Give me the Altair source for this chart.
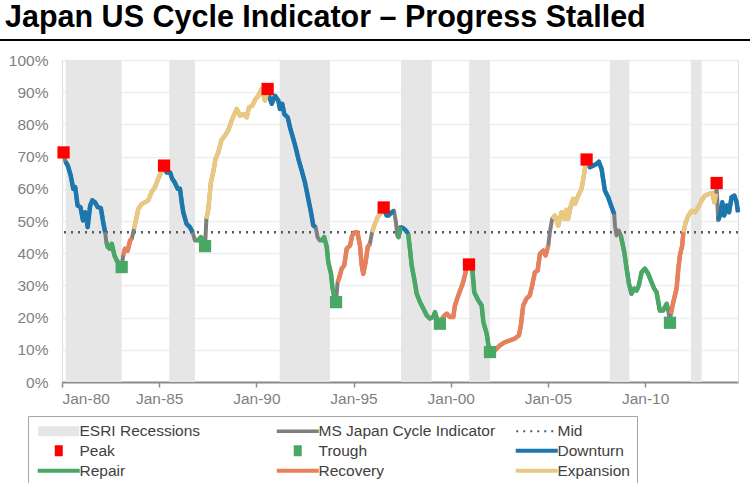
import altair as alt
import pandas as pd

# ---------------- data ----------------
rec_start = [1980.19, 1985.52, 1991.20, 1997.44, 2000.95, 2008.19, 2012.36]
rec_end = [1983.07, 1986.84, 1993.79, 1999.02, 2002.02, 2009.19, 2012.91]

years = [
    1980.08, 1980.17, 1980.30, 1980.45, 1980.58, 1980.68, 1980.80, 1980.95, 1981.08, 1981.20,
    1981.32, 1981.45, 1981.56, 1981.70, 1981.84, 1982.00, 1982.12, 1982.22, 1982.28, 1982.36,
    1982.46, 1982.56, 1982.70, 1982.82, 1982.95, 1983.07, 1983.15, 1983.24, 1983.38, 1983.50,
    1983.60, 1983.70, 1983.78, 1983.93, 1984.10, 1984.27, 1984.44, 1984.60, 1984.78, 1984.95,
    1985.09, 1985.25, 1985.38, 1985.56, 1985.67, 1985.80, 1985.95, 1986.07, 1986.16, 1986.24,
    1986.41, 1986.58, 1986.72, 1986.84, 1987.00, 1987.15, 1987.27, 1987.36, 1987.43, 1987.53,
    1987.66, 1987.78, 1987.90, 1988.04, 1988.20, 1988.38, 1988.55, 1988.73, 1988.99, 1989.16,
    1989.33, 1989.50, 1989.62, 1989.79, 1989.96, 1990.10, 1990.27, 1990.44, 1990.58, 1990.65,
    1990.79, 1990.96, 1991.13, 1991.21, 1991.33, 1991.44, 1991.61, 1991.73, 1991.90, 1992.02,
    1992.16, 1992.33, 1992.50, 1992.67, 1992.81, 1992.93, 1993.05, 1993.15, 1993.25, 1993.36,
    1993.49, 1993.62, 1993.70, 1993.84, 1993.92, 1994.02, 1994.10, 1994.18, 1994.25, 1994.39,
    1994.52, 1994.65, 1994.82, 1994.93, 1995.08, 1995.20, 1995.33, 1995.42, 1995.50, 1995.62,
    1995.73, 1995.84, 1995.95, 1996.07, 1996.24, 1996.36, 1996.55, 1996.70, 1996.79, 1996.96,
    1997.08, 1997.18, 1997.25, 1997.32, 1997.40, 1997.55, 1997.70, 1997.81, 1997.90, 1997.99,
    1998.12, 1998.25, 1998.42, 1998.59, 1998.76, 1998.93, 1999.10, 1999.19, 1999.30, 1999.44,
    1999.61, 1999.79, 1999.96, 2000.13, 2000.22, 2000.39, 2000.52, 2000.64, 2000.81, 2000.94,
    2001.11, 2001.21, 2001.42, 2001.59, 2001.68, 2001.85, 2001.94, 2002.02, 2002.27, 2002.53,
    2002.79, 2003.05, 2003.30, 2003.51, 2003.61, 2003.73, 2003.90, 2004.07, 2004.19, 2004.33,
    2004.47, 2004.59, 2004.76, 2004.88, 2005.02, 2005.10, 2005.22, 2005.36, 2005.53, 2005.70,
    2005.87, 2005.95, 2006.04, 2006.18, 2006.30, 2006.39, 2006.56, 2006.73, 2006.81, 2006.90,
    2006.99, 2007.16, 2007.33, 2007.50, 2007.62, 2007.76, 2007.93, 2008.10, 2008.28, 2008.41,
    2008.45, 2008.53, 2008.65, 2008.75, 2008.93, 2009.05, 2009.17, 2009.30, 2009.44, 2009.56,
    2009.68, 2009.82, 2009.99, 2010.16, 2010.33, 2010.47, 2010.59, 2010.68, 2010.76, 2010.93,
    2011.11, 2011.19, 2011.28, 2011.33, 2011.45, 2011.62, 2011.71, 2011.79, 2011.91, 2011.97,
    2012.09, 2012.23, 2012.40, 2012.57, 2012.74, 2012.91, 2013.08, 2013.29, 2013.46, 2013.56,
    2013.65, 2013.68, 2013.76, 2013.85, 2013.97, 2014.07, 2014.20, 2014.32, 2014.45, 2014.59,
    2014.71, 2014.78,
]

values = [
    71.0, 68.5, 67.2, 64.1, 60.0, 60.5, 54.8, 54.3, 50.2, 52.7,
    48.1, 54.8, 56.4, 55.8, 54.3, 54.0, 49.6, 46.5, 43.5, 41.9,
    41.4, 42.9, 39.3, 37.7, 36.7, 35.7, 39.3, 41.4, 40.8, 43.9,
    44.7, 47.5, 49.6, 53.8, 55.3, 55.8, 56.4, 58.9, 60.5, 63.1,
    64.9, 67.0, 65.1, 65.1, 63.1, 62.0, 60.0, 60.0, 55.8, 52.7,
    49.1, 48.1, 46.5, 44.0, 44.0, 45.0, 44.0, 42.2, 50.7, 53.8,
    62.0, 65.1, 69.3, 71.3, 75.0, 76.5, 78.1, 81.2, 84.8, 82.7,
    83.2, 82.2, 85.3, 85.8, 87.9, 88.9, 91.0, 87.4, 90.5, 88.9,
    86.4, 88.9, 87.4, 84.8, 86.4, 83.2, 82.2, 79.1, 75.5, 72.9,
    69.3, 65.7, 62.0, 56.9, 52.7, 48.6, 48.1, 45.0, 44.0, 44.0,
    45.0, 41.9, 37.2, 33.6, 29.0, 26.0, 24.8, 31.0, 32.1, 35.2,
    36.2, 41.4, 42.4, 45.5, 46.5, 46.5, 42.4, 36.2, 33.6, 37.2,
    41.9, 42.9, 46.5, 48.6, 51.2, 52.2, 54.0, 51.7, 51.7, 52.7,
    53.2, 49.6, 45.5, 45.0, 48.1, 47.8, 47.0, 46.0, 41.4, 36.2,
    32.1, 27.4, 24.8, 22.8, 20.7, 19.7, 20.2, 21.7, 19.5, 18.1,
    20.2, 21.2, 20.2, 20.2, 23.8, 26.9, 29.0, 31.0, 35.2, 36.5,
    35.2, 27.9, 25.3, 23.8, 18.6, 15.0, 11.4, 9.3, 9.8, 11.4,
    12.4, 12.9, 13.5, 14.5, 17.6, 23.8, 25.9, 26.9, 30.0, 34.1,
    34.6, 39.8, 40.8, 39.3, 42.4, 46.5, 50.7, 51.7, 48.6, 52.7,
    50.7, 53.5, 50.7, 54.8, 56.9, 55.3, 57.9, 60.0, 62.6, 66.2,
    69.0, 66.7, 67.2, 67.7, 68.4, 66.2, 59.5, 57.4, 54.3, 52.2,
    48.6, 45.5, 47.0, 45.5, 40.3, 35.2, 30.5, 27.4, 29.0, 28.4,
    30.0, 34.1, 35.2, 33.6, 31.0, 29.0, 27.9, 24.8, 22.2, 22.2,
    24.3, 22.2, 18.8, 21.2, 24.8, 29.0, 35.2, 39.3, 42.4, 46.5,
    49.6, 51.7, 53.2, 52.7, 54.3, 56.4, 57.9, 58.4, 58.7, 55.8,
    58.5, 61.0, 50.2, 51.7, 55.8, 51.7, 54.8, 52.7, 57.4, 57.9,
    55.8, 52.7,
]

# phase of the stretch that starts at each point: D downturn, R repair,
# C recovery, E expansion, G none (grey indicator only)
phases = [
    "G", "D", "D", "D", "D", "D", "D", "D", "D", "D",
    "D", "D", "D", "D", "D", "D", "D", "G", "R", "R",
    "R", "R", "R", "R", "G", "G", "C", "C", "C", "C",
    "G", "E", "E", "E", "E", "E", "E", "E", "E", "E",
    "E", "D", "D", "D", "D", "D", "D", "D", "D", "D",
    "D", "D", "G", "R", "R", "R", "G", "G", "E", "E",
    "E", "E", "E", "E", "E", "E", "E", "E", "E", "E",
    "E", "E", "E", "E", "E", "E", "E", "E", "G", "D",
    "D", "D", "D", "D", "D", "D", "D", "D", "D", "D",
    "D", "D", "D", "D", "D", "D", "G", "G", "R", "R",
    "R", "R", "R", "R", "R", "G", "G", "C", "C", "C",
    "C", "C", "C", "C", "C", "C", "C", "C", "C", "C",
    "C", "G", "E", "E", "E", "E", "D", "D", "D", "D",
    "G", "G", "R", "R", "D", "D", "D", "R", "R", "R",
    "R", "R", "R", "R", "R", "R", "R", "R", "R", "C",
    "C", "C", "C", "C", "C", "C", "C", "C", "C", "R",
    "R", "R", "R", "R", "R", "R", "R", "C", "C", "C",
    "C", "C", "C", "C", "C", "C", "C", "C", "C", "C",
    "C", "C", "C", "C", "G", "G", "E", "E", "E", "E",
    "E", "E", "E", "E", "E", "E", "E", "E", "E", "E",
    "D", "D", "D", "D", "D", "D", "D", "D", "D", "G",
    "G", "G", "G", "R", "R", "R", "R", "R", "R", "R",
    "R", "R", "R", "R", "R", "R", "R", "R", "R", "R",
    "R", "G", "G", "C", "C", "C", "C", "C", "C", "E",
    "E", "E", "E", "E", "E", "E", "E", "E", "E", "E",
    "G", "G", "D", "D", "D", "D", "D", "D", "D", "D",
    "D", "D",
]

peak_year = [1980.08, 1985.25, 1990.58, 1996.55, 2000.94, 2006.99, 2013.68]
peak_val = [71.3, 67.2, 91.0, 54.2, 36.5, 69.1, 61.8]
trough_year = [1983.07, 1987.36, 1994.10, 1999.44, 2002.02, 2011.28]
trough_val = [35.7, 42.2, 24.8, 18.1, 9.3, 18.4]

mid_level = 46.5
x_ticks = [1980, 1985, 1990, 1995, 2000, 2005, 2010]
y_ticks = [0, 10, 20, 30, 40, 50, 60, 70, 80, 90, 100]

phase_codes = ["D", "R", "C", "E"]
phase_names = ["Downturn", "Repair", "Recovery", "Expansion"]
phase_colors = ["#1b77ae", "#49a865", "#e8805c", "#e9c880"]

legend_entries = ["ESRI Recessions", "MS Japan Cycle Indicator", "Mid",
                  "Peak", "Trough", "Downturn",
                  "Repair", "Recovery", "Expansion"]
legend_colors = ["#e6e6e6", "#7f7f7f", "#595959",
                 "#ff0000", "#49a865", "#1b77ae",
                 "#49a865", "#e8805c", "#e9c880"]

# ---------------- tables ----------------
FONT = "Liberation Sans"
W, H = 676, 322

line_df = pd.DataFrame({"year": years, "value": values})
rec_df = pd.DataFrame({"start": rec_start, "end": rec_end})
peak_df = pd.DataFrame({"year": peak_year, "value": peak_val})
trough_df = pd.DataFrame({"year": trough_year, "value": trough_val})

name_of = dict(zip(phase_codes, phase_names))
rows = []
seg = 0
n = len(years)
i = 0
while i < n - 1:
    p = phases[i]
    j = i
    while j + 1 < n - 1 and phases[j + 1] == p:
        j += 1
    if p != "G":
        for k in range(i, j + 2):
            rows.append({"year": years[k], "value": values[k],
                         "phase": name_of[p], "seg": seg})
        seg += 1
    i = j + 1
seg_df = pd.DataFrame(rows)

# ---------------- encodings ----------------
xscale = alt.Scale(domain=[1980, 2014.78], nice=False, zero=False)
yscale = alt.Scale(domain=[0, 100], nice=False)

xaxis = alt.Axis(values=x_ticks, title=None, grid=False,
                 labelExpr="'Jan-' + substring(toString(datum.value), 2, 4)",
                 domainColor="#8c8c8c", domainWidth=2, tickColor="#8c8c8c",
                 tickWidth=1.5, tickSize=5, labelPadding=4,
                 labelColor="#7f7f7f", labelFontSize=15.5, labelFont=FONT)
yaxis = alt.Axis(values=y_ticks, title=None, domain=False, ticks=False, tickSize=0,
                 labelExpr="datum.value + '%'", labelPadding=14,
                 grid=True, gridColor="#eeeeee", gridWidth=1.5,
                 labelColor="#7f7f7f", labelFontSize=15.5, labelFont=FONT)

X = alt.X("year:Q", scale=xscale, axis=xaxis)
Y = alt.Y("value:Q", scale=yscale, axis=yaxis)

rec = alt.Chart(rec_df).mark_rect(color="#e6e6e6").encode(
    x=alt.X("start:Q", scale=xscale, axis=xaxis),
    x2="end:Q",
    y=alt.YDatum(100, scale=yscale, axis=yaxis),
    y2=alt.datum(0),
)

mid = alt.Chart(pd.DataFrame({"m": [mid_level]})).mark_rule(
    color="#595959", strokeWidth=2.5, strokeDash=[2, 5]
).encode(y=alt.Y("m:Q", scale=yscale, axis=yaxis))

grey = alt.Chart(line_df).mark_line(color="#7f7f7f", strokeWidth=4,
                                    strokeJoin="round").encode(x=X, y=Y)

colored_layers = []
for pname, pcol in zip(phase_names, phase_colors):
    colored_layers.append(
        alt.Chart(seg_df).transform_filter(alt.datum.phase == pname)
        .mark_line(color=pcol, strokeWidth=4.5, strokeJoin="round")
        .encode(x=X, y=Y, detail="seg:N")
    )

peaks = alt.Chart(peak_df).mark_square(size=150, color="#ff0000", opacity=1).encode(x=X, y=Y)
troughs = alt.Chart(trough_df).mark_square(size=150, color="#49a865", opacity=1).encode(x=X, y=Y)

# legend symbols (unit = 5 px with symbolSize 100)
line_sym = "M-4.2,-0.4H4.2V0.4H-4.2Z"
dots = " ".join(f"M{c - 0.2:.2f},-0.2h0.4v0.4h-0.4Z" for c in [-3.9, -2.5, -1.1, 0.3, 1.7, 3.1])
sq_sym = "M-0.8,-1.1H0.8V1.1H-0.8Z"
legend_shapes = ["M-4.1,-1H4.1V1H-4.1Z", "M-4.2,-0.35H4.2V0.35H-4.2Z", dots,
                 sq_sym, sq_sym, line_sym, line_sym, line_sym, line_sym]

leg = alt.Legend(title=None, orient="none", legendX=-34, legendY=356,
                 direction="horizontal",
                 columns=3, gridAlign="all", columnPadding=17, rowPadding=3,
                 padding=7, strokeColor="#a6a6a6",
                 labelFont=FONT, labelFontSize=15.5, labelColor="#404040",
                 labelLimit=400, labelOffset=13, symbolOffset=16,
                 symbolSize=100, symbolStrokeWidth=0, symbolOpacity=1)

legend_layer = alt.Chart(pd.DataFrame({"entry": legend_entries})).mark_point(
    filled=True, opacity=0
).encode(
    color=alt.Color("entry:N", scale=alt.Scale(domain=legend_entries, range=legend_colors),
                    legend=leg),
    shape=alt.Shape("entry:N", scale=alt.Scale(domain=legend_entries, range=legend_shapes),
                    legend=leg),
)

underline = alt.Chart(pd.DataFrame({"k": [0]})).mark_rule(
    color="black", strokeWidth=2
).encode(x=alt.value(-62), x2=alt.value(688), y=alt.value(-20))

chart = alt.layer(
    rec, mid, grey, *colored_layers, peaks, troughs, legend_layer, underline
).properties(
    width=W, height=H,
    title=alt.TitleParams("Japan US Cycle Indicator \u2013 Progress Stalled",
                          anchor="start", frame="group", font=FONT, fontSize=30.5,
                          fontWeight="bold", color="black", dx=-57, offset=6),
    autosize=alt.AutoSizeParams(type="none"),
    padding={"left": 62, "top": 60, "right": 12, "bottom": 101},
).configure_view(stroke=None).configure(background="white")

chart.save("out.html", embed_options={"renderer": "svg", "actions": False})
